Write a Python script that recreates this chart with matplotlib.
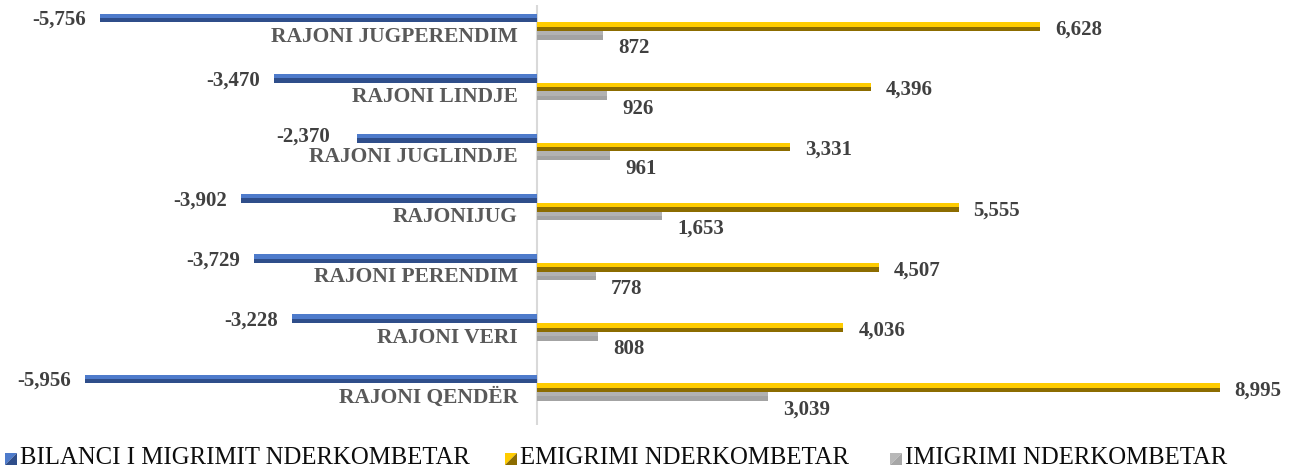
import matplotlib.pyplot as plt
from matplotlib.patches import Polygon

regions = ["RAJONI JUGPERENDIM", "RAJONI LINDJE", "RAJONI JUGLINDJE", "RAJONIJUG",
           "RAJONI PERENDIM", "RAJONI VERI", "RAJONI QENDËR"]
bilanci = [-5756, -3470, -2370, -3902, -3729, -3228, -5956]
emigrimi = [6628, 4396, 3331, 5555, 4507, 4036, 8995]
imigrimi = [872, 926, 961, 1653, 778, 808, 3039]
series_names = ["BILANCI I MIGRIMIT NDERKOMBETAR", "EMIGRIMI NDERKOMBETAR",
                "IMIGRIMI NDERKOMBETAR"]

# (light top face, dark front face)
BLUE = ("#4E7BCB", "#2F4E8A")
GOLD = ("#FFCC00", "#8C6C00")
GREY = ("#B2B2B2", "#A3A3A3")

SERIF = ["Liberation Serif", "DejaVu Serif"]
W, H = 1300, 471

fig = plt.figure(figsize=(13, 4.71), dpi=100)
ax = fig.add_axes([0, (H - 425) / H, 1, 420 / H])

y = list(range(len(regions)))
bh = 0.145


def bar3d(offset, vals, colors):
    pos = [v + offset for v in y]
    ax.barh([p - bh / 4 for p in pos], vals, height=bh / 2, color=colors[0], lw=0)
    ax.barh([p + bh / 4 for p in pos], vals, height=bh / 2, color=colors[1], lw=0)


bar3d(-bh, bilanci, BLUE)
bar3d(0, emigrimi, GOLD)
bar3d(bh, imigrimi, GREY)

ax.set_xlim(-537 / 0.0759, 763 / 0.0759)
ax.set_ylim((425 - 26.7) / 60.17, (5 - 26.7) / 60.17)
ax.axvline(0, color="#D9D9D9", lw=1.5, zorder=0)
ax.axis("off")

val_kw = dict(textcoords="offset pixels", fontsize=15, fontweight="bold",
              color="#404040", family=SERIF, va="center")
for i in y:
    # Excel pushed the short -2,370 label a bit further out
    nudge = (-27, 2) if i == 2 else (-14, -2)
    ax.annotate(f"{bilanci[i]:,}", (bilanci[i], i - bh), xytext=nudge,
                ha="right", **val_kw)
    ax.annotate(f"{emigrimi[i]:,}", (emigrimi[i], i), xytext=(15, -3),
                ha="left", **val_kw)
    ax.annotate(f"{imigrimi[i]:,}", (imigrimi[i], i + bh), xytext=(15, -13),
                ha="left", **val_kw)
    ax.annotate(regions[i], (0, i), xytext=(-19, -10), textcoords="offset pixels",
                ha="right", va="center", fontsize=15.5, fontweight="bold",
                color="#595959", family=SERIF)

# legend drawn by hand to keep Excel's spacing
leg_x = [5, 505, 890]
cols = [BLUE, GOLD, ((0.72, 0.72, 0.72), "#A6A6A6")]
for lx, name, c in zip(leg_x, series_names, cols):
    x0, x1 = lx / W, (lx + 12) / W
    y0, y1 = (H - 465) / H, (H - 453) / H
    fig.add_artist(Polygon([(x0, y0), (x0, y1), (x1, y1)], closed=True,
                           transform=fig.transFigure, color=c[0], lw=0))
    fig.add_artist(Polygon([(x0, y0), (x1, y0), (x1, y1)], closed=True,
                           transform=fig.transFigure, color=c[1], lw=0))
    fig.text((lx + 15) / W, (H - 464) / H, name, fontsize=17.8, color="#0D0D0D",
             family=SERIF, va="baseline", ha="left")

fig.savefig("out.png", dpi=100)
